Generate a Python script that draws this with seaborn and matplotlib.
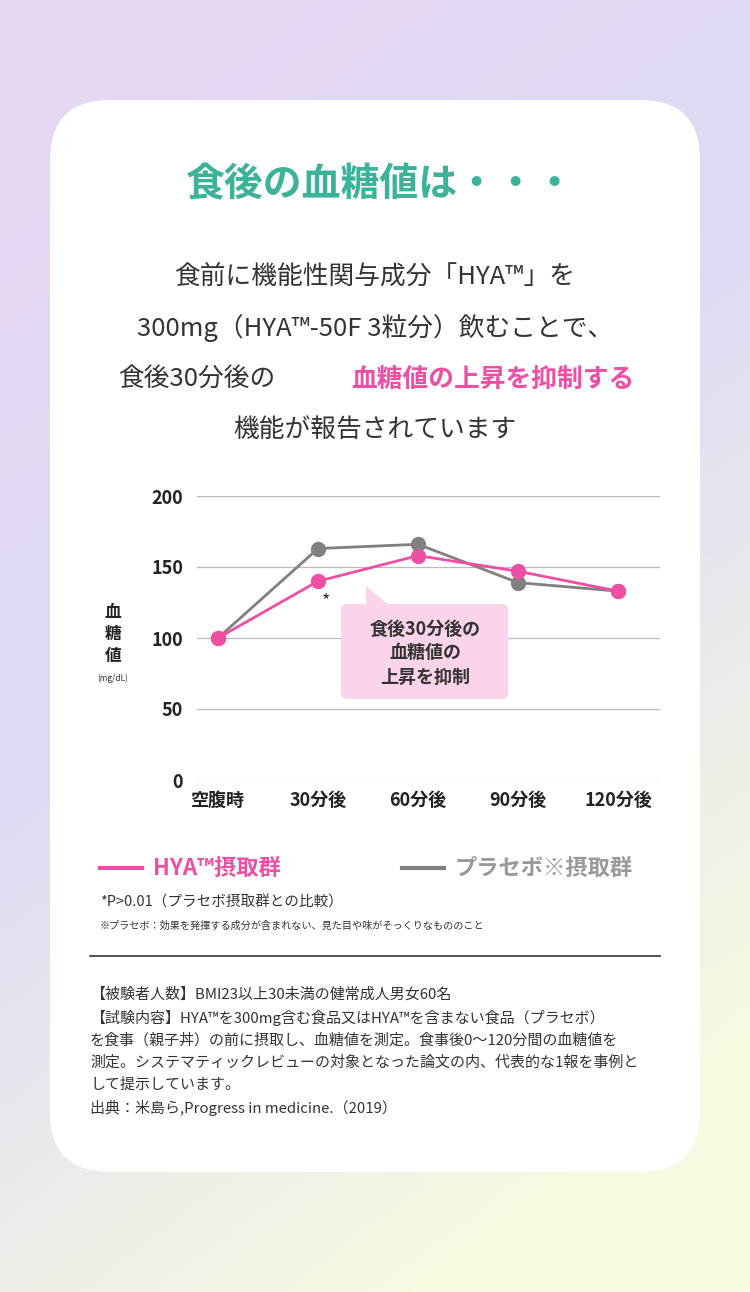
import numpy as np, pandas as pd, matplotlib
matplotlib.use("Agg")
import matplotlib.pyplot as plt
import seaborn as sns
from matplotlib.patches import FancyBboxPatch, Polygon

categories = ["空腹時", "30分後", "60分後", "90分後", "120分後"]
hya = [100, 140, 158, 147, 133]
placebo = [100, 163, 166, 139, 133]
yticks = [0, 50, 100, 150, 200]

JP = "Noto Sans CJK JP"
plt.rcParams["font.family"] = JP
W, H = 750, 1292
fig = plt.figure(figsize=(7.5, 12.92), dpi=100)

bg = fig.add_axes([0, 0, 1, 1]); bg.axis("off")
yy, xx = np.mgrid[0:1:200j, 0:1:120j]
top = np.array([0.91, 0.84, 0.95]); mid = np.array([0.87, 0.86, 0.96]); bot = np.array([0.97, 0.98, 0.88])
t = np.clip(yy * 0.8 + xx * 0.35, 0, 1)[..., None]
img = np.where(t < 0.5, top + (mid - top) * (t / 0.5), mid + (bot - mid) * ((t - 0.5) / 0.5))
bg.imshow(img, extent=[0, W, H, 0], aspect="auto")
bg.set_xlim(0, W); bg.set_ylim(H, 0)
bg.add_patch(FancyBboxPatch((50 + 60, 100 + 60), 650 - 120, 1072 - 120,
             boxstyle="round,pad=60", fc="white", ec="none"))

bg.text(380, 185, "食後の血糖値は・・・", ha="center", va="center", fontsize=28, color="#3bb39a", fontweight="bold")
bg.text(375, 277, "食前に機能性関与成分「HYA™」を", ha="center", va="center", fontsize=18.5, color="#333")
bg.text(375, 328, "300mg（HYA™-50F 3粒分）飲むことで、", ha="center", va="center", fontsize=18.5, color="#333")
bg.text(118, 379, "食後30分後の", ha="left", va="center", fontsize=18.5, color="#333")
bg.text(634, 379, "血糖値の上昇を抑制する", ha="right", va="center", fontsize=18.5, color="#ee4fa5", fontweight="bold")
bg.text(375, 430, "機能が報告されています", ha="center", va="center", fontsize=18.5, color="#333")

l, r, tp, bt = 197, 660, 496, 780
ax = fig.add_axes([l / W, 1 - bt / H, (r - l) / W, (bt - tp) / H])
ax.set_facecolor("none")
df = pd.DataFrame({"x": list(range(5)) * 2, "y": hya + placebo,
                   "g": ["HYA"] * 5 + ["placebo"] * 5})
sns.lineplot(data=df, x="x", y="y", hue="g", palette={"HYA": "#ee4fa5", "placebo": "#808080"},
             hue_order=["placebo", "HYA"], marker="o", markersize=11, markeredgewidth=0,
             linewidth=2, ax=ax, legend=False)
ax.set_xlim(-0.21, 4.42); ax.set_ylim(0, 200)
ax.set_yticks(yticks); ax.set_yticklabels([str(v) for v in yticks], fontsize=13, fontweight="bold", color="#222")
ax.set_xticks(range(5)); ax.set_xticklabels(categories, fontsize=13, fontweight="bold", color="#222")
ax.tick_params(length=0, pad=8)
ax.tick_params(axis="y", pad=10)
for s in ax.spines.values(): s.set_visible(False)
ax.grid(axis="y", color="#bbbbbb", linewidth=0.9)
ax.set_xlabel(""); ax.set_ylabel("")
ax.text(1.08, 126, "*", fontsize=13, color="#333", ha="center", va="center")

ov = fig.add_axes([0, 0, 1, 1]); ov.axis("off")
ov.set_xlim(0, W); ov.set_ylim(H, 0)
ov.add_patch(FancyBboxPatch((341, 604), 167, 95, boxstyle="round,pad=0,rounding_size=6", fc="#fbd3ea", ec="none"))
ov.add_patch(Polygon([[366, 586], [366, 606], [390, 606]], closed=True, fc="#fbd3ea", ec="none"))
for i, s in enumerate(["食後30分後の", "血糖値の", "上昇を抑制"]):
    ov.text(425, 629 + i * 24, s, ha="center", va="center", fontsize=13, fontweight="bold", color="#333")

for i, s in enumerate(["血", "糖", "値"]):
    ov.text(113, 612 + i * 22, s, ha="center", va="center", fontsize=12, fontweight="bold", color="#222")
ov.text(113, 678, "(mg/dL)", ha="center", va="center", fontsize=6, color="#333")

ov.plot([100, 142], [868, 868], color="#ee4fa5", lw=3)
ov.text(153, 868, "HYA™摂取群", ha="left", va="center", fontsize=16, fontweight="bold", color="#ee4fa5")
ov.plot([402, 444], [868, 868], color="#808080", lw=3)
ov.text(455, 868, "プラセボ※摂取群", ha="left", va="center", fontsize=16, fontweight="bold", color="#999")
ov.text(100, 903, "*P>0.01（プラセボ摂取群との比較）", ha="left", va="center", fontsize=10.5, color="#333")
ov.text(100, 926, "※プラセボ：効果を発揮する成分が含まれない、見た目や味がそっくりなもののこと", ha="left", va="center", fontsize=7.3, color="#333")
ov.plot([90, 660], [956, 956], color="#333", lw=1.2)

notes = ["【被験者人数】BMI23以上30未満の健常成人男女60名",
         "【試験内容】HYA™を300mg含む食品又はHYA™を含まない食品（プラセボ）",
         "を食事（親子丼）の前に摂取し、血糖値を測定。食事後0～120分間の血糖値を",
         "測定。システマティックレビューの対象となった論文の内、代表的な1報を事例と",
         "して提示しています。",
         "出典：米島ら,Progress in medicine.（2019）"]
for i, s in enumerate(notes):
    ov.text(90, 995 + i * 22.5, s, ha="left", va="center", fontsize=10.8, color="#333")

fig.savefig("out.png", dpi=100)
